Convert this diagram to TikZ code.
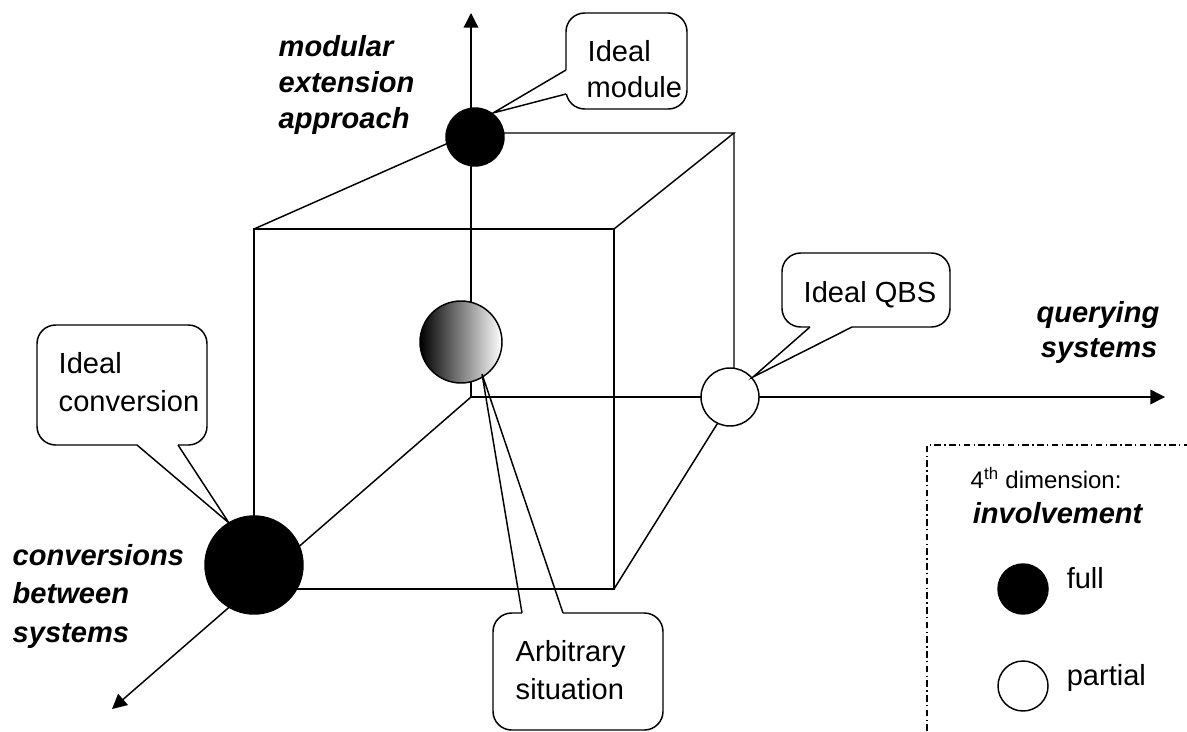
\documentclass[tikz,border=0pt]{standalone}
\usepackage{fontspec}
\setmainfont{Liberation Sans}
\usetikzlibrary{arrows.meta}
\begin{document}
\begin{tikzpicture}[x=0.75pt,y=-0.75pt, line width=1.1pt, line join=miter,
 txt/.style={inner sep=0, font=\fontsize{21.8}{26}\selectfont},
 bit/.style={inner sep=0, font=\fontsize{21.8}{26}\selectfont\bfseries\itshape},
 small/.style={inner sep=0, font=\fontsize{18}{22}\selectfont},
 axisarrow/.style={-{Triangle[length=11pt,width=11pt]}},
 ball/.style={circle, draw, inner sep=0, minimum size=#1*1.5pt},
 cbox/.style={draw, fill=white, rounded corners=14pt, inner sep=0},
 gapcover/.style={white, line width=2.2pt},
 legendline/.style={line width=0.9pt, dash pattern=on 5pt off 2.5pt on 1pt off 2.5pt},
 ]
\useasboundingbox (0,0) rectangle (1187,731);
% cube corners
\coordinate (O) at (471,397);
\coordinate (BT) at (471,133);
\coordinate (BR) at (734,397);
\coordinate (BTR) at (734,133);
\coordinate (FTL) at (254,229);
\coordinate (FTR) at (614,229);
\coordinate (FBR) at (614,589);
\coordinate (FBL) at (254,589);
\coordinate (tipY) at (471,13);
\coordinate (tipX) at (1165,397);
\coordinate (tipZ) at (112,709);
% cube
\draw (FTL) -- (FTR) -- (FBR) -- (FBL) -- cycle;
\draw (FTL) -- (BT) -- (BTR) -- (FTR);
\draw (BTR) -- (BR) -- (FBR);
% axes
\draw[axisarrow] (O) -- (tipY);
\draw[axisarrow] (O) -- (tipX);
\draw[axisarrow] (O) -- (tipZ);
% balls
\node[ball=29, fill=black] (bmod) at (475,137) {};
\node[ball=41, left color=black, right color=white] (barb) at (461,342) {};
\node[ball=29, fill=white] (bqbs) at (730,397) {};
\node[ball=49, fill=black] (bconv) at (254,565) {};
% callout: Ideal module
\node[cbox, minimum width=121*0.75pt, minimum height=96*0.75pt] (cmod) at (626.5,61) {};
\coordinate (cmodA) at (566,70);
\coordinate (cmodB) at (566,94);
\coordinate (cmodT) at (493,113);
\draw[gapcover] (cmodA) -- (cmodB);
\draw (cmodA) -- (cmodT) -- (cmodB);
\node[txt, anchor=base west] (tmod1) at (587,62) {Ideal};
\node[txt, anchor=base west] (tmod2) at (586,98) {module};
% callout: Ideal QBS
\node[cbox, minimum width=168*0.75pt, minimum height=74*0.75pt] (cqbs) at (866,290) {};
\coordinate (cqbsA) at (810,327);
\coordinate (cqbsB) at (852,327);
\coordinate (cqbsT) at (753,377);
\draw[gapcover] (cqbsA) -- (cqbsB);
\draw (cqbsA) -- (cqbsT) -- (cqbsB);
\node[txt, anchor=base west] (tqbs) at (803,302) {Ideal QBS};
% callout: Ideal conversion
\node[cbox, minimum width=170*0.75pt, minimum height=120*0.75pt] (cconv) at (122,385) {};
\coordinate (cconvA) at (137,445);
\coordinate (cconvB) at (178,445);
\coordinate (cconvT) at (229,523);
\draw[gapcover] (cconvA) -- (cconvB);
\draw (cconvA) -- (cconvT) -- (cconvB);
\node[txt, anchor=base west] (tconv1) at (58,373) {Ideal};
\node[txt, anchor=base west] (tconv2) at (58,411) {conversion};
% callout: Arbitrary situation
\node[cbox, minimum width=170*0.75pt, minimum height=117*0.75pt] (carb) at (578,671.5) {};
\coordinate (carbA) at (522,613);
\coordinate (carbB) at (563,613);
\coordinate (carbT) at (482,374);
\draw[gapcover] (carbA) -- (carbB);
\draw (carbA) -- (carbT) -- (carbB);
\node[txt, anchor=base west] (tarb1) at (515,661) {Arbitrary};
\node[txt, anchor=base west] (tarb2) at (515,699) {situation};
% axis labels
\node[bit, anchor=base west] (ly1) at (278,57) {modular};
\node[bit, anchor=base west] (ly2) at (278,93) {extension};
\node[bit, anchor=base west] (ly3) at (278,129) {approach};
\node[bit, anchor=base east] (lx1) at (1160,322) {querying};
\node[bit, anchor=base east] (lx2) at (1158,357) {systems};
\node[bit, anchor=base west] (lz1) at (12,565) {conversions};
\node[bit, anchor=base west] (lz2) at (12,603) {between};
\node[bit, anchor=base west] (lz3) at (12,642) {systems};
% legend
\coordinate (lgA) at (927,731);
\coordinate (lgB) at (927,445);
\coordinate (lgC) at (1187,445);
\draw[legendline] (lgA) -- (lgB) -- (lgC);
\node[small, anchor=base west] (ldim) at (970,488) {4\textsuperscript{th} dimension:};
\node[bit, anchor=base west] (linv) at (972,523) {involvement};
\node[ball=25, fill=black] (lfull) at (1023,589) {};
\node[ball=25, fill=white] (lpart) at (1023,686) {};
\node[txt, anchor=base west] (tfull) at (1066,588) {full};
\node[txt, anchor=base west] (tpart) at (1066,685) {partial};
\end{tikzpicture}
\end{document}
